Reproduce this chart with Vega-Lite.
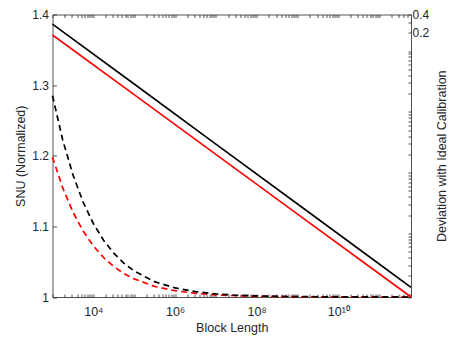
{
  "$schema": "https://vega.github.io/schema/vega-lite/v6.json",
  "width": 358.5,
  "height": 282.5,
  "autosize": "none",
  "padding": {"left": 52.5, "top": 14.5, "right": 52, "bottom": 51},
  "background": "white",
  "config": {
    "view": {"stroke": null},
    "font": "Liberation Sans",
    "axis": {
      "grid": false,
      "domainColor": "#262626",
      "domainWidth": 0.8,
      "tickColor": "#262626",
      "tickWidth": 0.8,
      "labelColor": "#262626",
      "titleColor": "#262626",
      "labelFont": "Liberation Sans",
      "titleFont": "Liberation Sans",
      "labelFontSize": 12,
      "titleFontSize": 12.5,
      "titleFontWeight": "normal"
    }
  },
  "data": {
    "values": [
      {"N": 1000, "snu": 1.285, "series": "dev_black"},
      {"N": 1778, "snu": 1.2224, "series": "dev_black"},
      {"N": 3162, "snu": 1.1731, "series": "dev_black"},
      {"N": 5623, "snu": 1.1344, "series": "dev_black"},
      {"N": 10000, "snu": 1.1041, "series": "dev_black"},
      {"N": 17783, "snu": 1.0804, "series": "dev_black"},
      {"N": 31623, "snu": 1.0621, "series": "dev_black"},
      {"N": 56234, "snu": 1.0478, "series": "dev_black"},
      {"N": 100000, "snu": 1.0368, "series": "dev_black"},
      {"N": 316228, "snu": 1.0217, "series": "dev_black"},
      {"N": 1000000, "snu": 1.0128, "series": "dev_black"},
      {"N": 3162278, "snu": 1.0075, "series": "dev_black"},
      {"N": 10000000, "snu": 1.0044, "series": "dev_black"},
      {"N": 31622777, "snu": 1.0025, "series": "dev_black"},
      {"N": 100000000, "snu": 1.0015, "series": "dev_black"},
      {"N": 1000000000, "snu": 1.0005, "series": "dev_black"},
      {"N": 10000000000, "snu": 1.0002, "series": "dev_black"},
      {"N": 100000000000, "snu": 1.0001, "series": "dev_black"},
      {"N": 600000000000, "snu": 1.0, "series": "dev_black"},
      {"N": 1000, "snu": 1.198, "series": "dev_red"},
      {"N": 1778, "snu": 1.1545, "series": "dev_red"},
      {"N": 3162, "snu": 1.1203, "series": "dev_red"},
      {"N": 5623, "snu": 1.0934, "series": "dev_red"},
      {"N": 10000, "snu": 1.0723, "series": "dev_red"},
      {"N": 17783, "snu": 1.0559, "series": "dev_red"},
      {"N": 31623, "snu": 1.0431, "series": "dev_red"},
      {"N": 56234, "snu": 1.0332, "series": "dev_red"},
      {"N": 100000, "snu": 1.0256, "series": "dev_red"},
      {"N": 316228, "snu": 1.0151, "series": "dev_red"},
      {"N": 1000000, "snu": 1.0089, "series": "dev_red"},
      {"N": 3162278, "snu": 1.0052, "series": "dev_red"},
      {"N": 10000000, "snu": 1.003, "series": "dev_red"},
      {"N": 31622777, "snu": 1.0018, "series": "dev_red"},
      {"N": 100000000, "snu": 1.001, "series": "dev_red"},
      {"N": 1000000000, "snu": 1.0003, "series": "dev_red"},
      {"N": 10000000000, "snu": 1.0001, "series": "dev_red"},
      {"N": 100000000000, "snu": 1.0, "series": "dev_red"},
      {"N": 600000000000, "snu": 1.0, "series": "dev_red"},
      {"N": 1000, "snu": 1.3865, "series": "snu_black"},
      {"N": 100000, "snu": 1.3016, "series": "snu_black"},
      {"N": 10000000, "snu": 1.2166, "series": "snu_black"},
      {"N": 1000000000, "snu": 1.1317, "series": "snu_black"},
      {"N": 100000000000, "snu": 1.0467, "series": "snu_black"},
      {"N": 600000000000, "snu": 1.0137, "series": "snu_black"},
      {"N": 1000, "snu": 1.371, "series": "snu_red"},
      {"N": 100000, "snu": 1.2865, "series": "snu_red"},
      {"N": 10000000, "snu": 1.202, "series": "snu_red"},
      {"N": 1000000000, "snu": 1.1174, "series": "snu_red"},
      {"N": 100000000000, "snu": 1.0329, "series": "snu_red"},
      {"N": 600000000000, "snu": 1.0, "series": "snu_red"}
    ]
  },
  "layer": [
    {
      "encoding": {
        "x": {
          "field": "N", "type": "quantitative",
          "scale": {"type": "log", "domain": [1000, 600000000000]},
          "axis": {
            "orient": "bottom",
            "title": "Block Length",
            "tickSize": -3,
            "labelPadding": 11,
            "titlePadding": 4,
            "values": [1000,2000,3000,4000,5000,6000,7000,8000,9000,10000,20000,30000,40000,50000,60000,70000,80000,90000,100000,200000,300000,400000,500000,600000,700000,800000,900000,1000000,2000000,3000000,4000000,5000000,6000000,7000000,8000000,9000000,10000000,20000000,30000000,40000000,50000000,60000000,70000000,80000000,90000000,100000000,200000000,300000000,400000000,500000000,600000000,700000000,800000000,900000000,1000000000,2000000000,3000000000,4000000000,5000000000,6000000000,7000000000,8000000000,9000000000,10000000000,20000000000,30000000000,40000000000,50000000000,60000000000,70000000000,80000000000,90000000000,100000000000,200000000000,300000000000,400000000000,500000000000],
            "labelExpr": "datum.value == 10000 ? '10⁴' : datum.value == 1000000 ? '10⁶' : datum.value == 100000000 ? '10⁸' : datum.value == 10000000000 ? '10¹⁰' : ''",
            "labelFontSize": 12.5
          }
        },
        "y": {
          "field": "snu", "type": "quantitative",
          "scale": {"domain": [1, 1.4], "nice": false, "zero": false},
          "axis": {
            "orient": "left",
            "title": "SNU (Normalized)",
            "values": [1, 1.1, 1.2, 1.3, 1.4],
            "format": "~g",
            "tickSize": -4,
            "labelPadding": 8,
            "titlePadding": 4
          }
        }
      },
      "layer": [
        {"transform": [{"filter": "datum.series == 'dev_red'"}], "mark": {"type": "line", "color": "#ff0000", "strokeWidth": 1.7, "strokeDash": [6, 4]}},
        {"transform": [{"filter": "datum.series == 'dev_black'"}], "mark": {"type": "line", "color": "#000000", "strokeWidth": 1.7, "strokeDash": [6, 4]}},
        {"transform": [{"filter": "datum.series == 'snu_red'"}], "mark": {"type": "line", "color": "#ff0000", "strokeWidth": 1.6}},
        {"transform": [{"filter": "datum.series == 'snu_black'"}], "mark": {"type": "line", "color": "#000000", "strokeWidth": 1.6}}
      ]
    },
    {
      "data": {"values": [{"N": 1000, "dev": 0.4}]},
      "mark": {"type": "point", "opacity": 0},
      "encoding": {
        "x": {
          "field": "N", "type": "quantitative",
          "scale": {"type": "log", "domain": [1000, 600000000000]},
          "axis": {
            "orient": "top", "title": null, "labels": false, "tickSize": -3,
            "values": [1000,2000,3000,4000,5000,6000,7000,8000,9000,10000,20000,30000,40000,50000,60000,70000,80000,90000,100000,200000,300000,400000,500000,600000,700000,800000,900000,1000000,2000000,3000000,4000000,5000000,6000000,7000000,8000000,9000000,10000000,20000000,30000000,40000000,50000000,60000000,70000000,80000000,90000000,100000000,200000000,300000000,400000000,500000000,600000000,700000000,800000000,900000000,1000000000,2000000000,3000000000,4000000000,5000000000,6000000000,7000000000,8000000000,9000000000,10000000000,20000000000,30000000000,40000000000,50000000000,60000000000,70000000000,80000000000,90000000000,100000000000,200000000000,300000000000,400000000000,500000000000]
          }
        },
        "y": {
          "field": "dev", "type": "quantitative",
          "scale": {"type": "log", "domain": [0.000009, 0.4]},
          "axis": {
            "orient": "right",
            "title": "Deviation with Ideal Calibration",
            "titleAngle": -90,
            "tickSize": -3,
            "labelPadding": 4,
            "titlePadding": 20,
            "labelFontSize": 12,
            "values": [0.000009,0.00001,0.00002,0.00003,0.00004,0.00005,0.00006,0.00007,0.00008,0.00009,0.0001,0.0002,0.0003,0.0004,0.0005,0.0006,0.0007,0.0008,0.0009,0.001,0.002,0.003,0.004,0.005,0.006,0.007,0.008,0.009,0.01,0.02,0.03,0.04,0.05,0.06,0.07,0.08,0.09,0.1,0.2,0.3,0.4],
            "labelExpr": "datum.value == 0.4 ? '0.4' : datum.value == 0.2 ? '0.2' : ''"
          }
        }
      }
    }
  ],
  "resolve": {"scale": {"x": "independent", "y": "independent"}, "axis": {"x": "independent", "y": "independent"}}
}
